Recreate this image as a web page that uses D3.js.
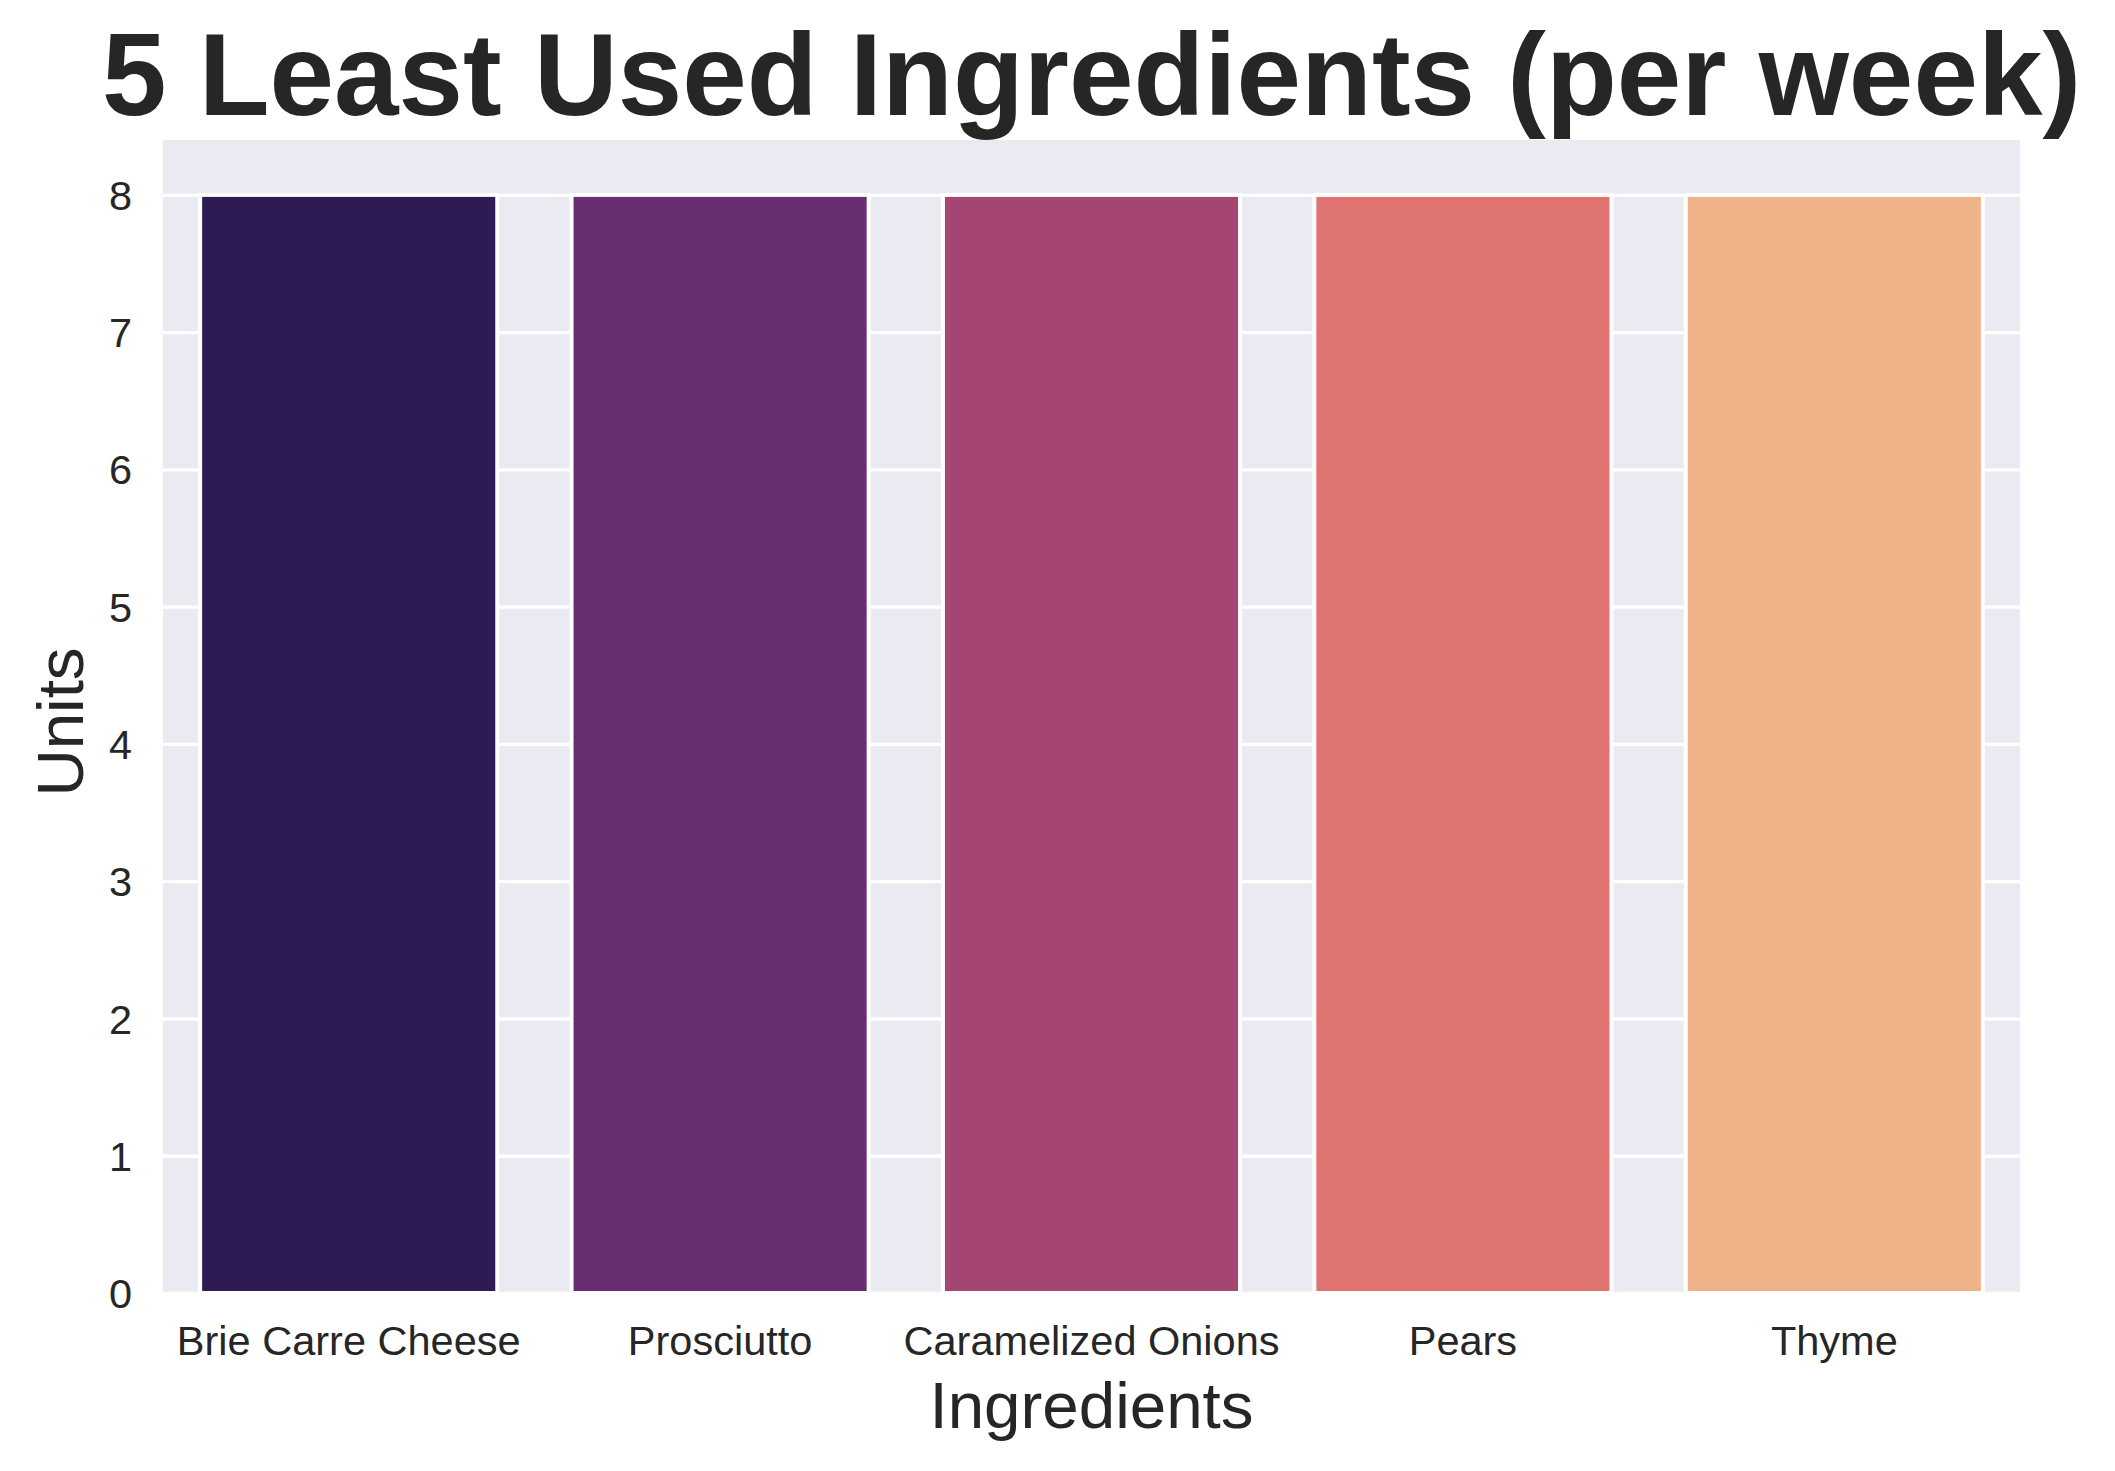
<!DOCTYPE html>
<html>
<head>
<meta charset="utf-8">
<script src="https://cdn.jsdelivr.net/npm/d3@7"></script>
<style>
  html, body { margin: 0; padding: 0; background: #ffffff; }
  svg { display: block; }
  text { font-family: "Liberation Sans", Arial, sans-serif; fill: #262626; }
</style>
</head>
<body>
<svg id="chart" width="2115" height="1471"></svg>
<script>
const categories = ["Brie Carre Cheese", "Prosciutto", "Caramelized Onions", "Pears", "Thyme"];
const values = [8, 8, 8, 8, 8];
const barColors = ["#2f1b53", "#692d71", "#a54573", "#df7370", "#eeb388"];
const yTicks = [0, 1, 2, 3, 4, 5, 6, 7, 8];
const titleText = "5 Least Used Ingredients (per week)";
const xLabelText = "Ingredients";
const yLabelText = "Units";

(function () {
const svg = d3.select("#chart");
const pLeft = 163, pRight = 2020, pTop = 140, pBottom = 1293;

const x = d3.scaleBand().domain(categories).range([pLeft, pRight]).paddingInner(0.2).paddingOuter(0.1);
const y = d3.scaleLinear().domain([0, 8.4]).range([pBottom, pTop]);

// background
svg.append("rect").attr("x", pLeft).attr("y", pTop).attr("width", pRight - pLeft).attr("height", pBottom - pTop).attr("fill", "#eaeaf2");

// horizontal gridlines
const gy = svg.append("g").attr("transform", `translate(${pLeft},0)`)
  .call(d3.axisLeft(y).tickValues(yTicks).tickSize(-(pRight - pLeft)).tickFormat(""));
gy.select(".domain").remove();
gy.selectAll("line").attr("stroke", "#ffffff").attr("stroke-width", 3.3);

// bars
svg.append("g").selectAll("rect").data(categories).join("rect")
  .attr("x", d => x(d))
  .attr("y", (d, i) => y(values[i]))
  .attr("width", x.bandwidth())
  .attr("height", (d, i) => y(0) - y(values[i]))
  .attr("fill", (d, i) => barColors[i])
  .attr("stroke", "#ffffff")
  .attr("stroke-width", 4);

// y tick labels
const yAxis = svg.append("g").attr("transform", `translate(${pLeft},0)`)
  .call(d3.axisLeft(y).tickValues(yTicks).tickSize(0).tickPadding(31).tickFormat(d3.format("d")));
yAxis.select(".domain").remove();
yAxis.selectAll("text").attr("font-size", "41.5px").attr("fill", "#262626")
  .attr("font-family", "Liberation Sans, Arial, sans-serif").attr("dy", "0.35em");

// x tick labels
const xAxis = svg.append("g").attr("transform", `translate(0,${pBottom})`)
  .call(d3.axisBottom(x).tickSize(0).tickPadding(0));
xAxis.select(".domain").remove();
xAxis.selectAll("text").attr("font-size", "41.5px").attr("fill", "#262626")
  .attr("font-family", "Liberation Sans, Arial, sans-serif")
  .attr("dy", null).attr("y", 62);

// axis labels
svg.append("text").attr("x", (pLeft + pRight) / 2).attr("y", 1428)
  .attr("text-anchor", "middle").attr("font-size", "65.5px").text(xLabelText);
svg.append("text").attr("transform", `translate(83,722) rotate(-90)`)
  .attr("text-anchor", "middle").attr("font-size", "65.5px").text(yLabelText);

// title
svg.append("text").attr("x", (pLeft + pRight) / 2).attr("y", 115)
  .attr("text-anchor", "middle").attr("font-size", "116px").attr("font-weight", "bold")
  .text(titleText);
})();
</script>
</body>
</html>
